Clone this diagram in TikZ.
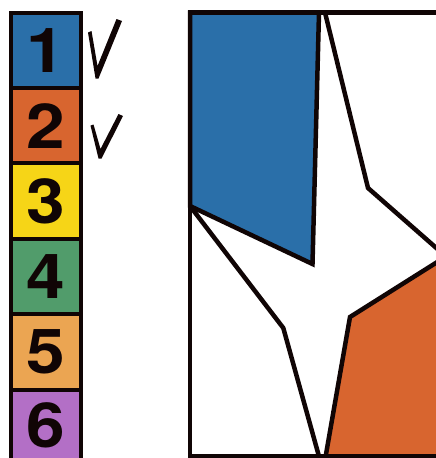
\documentclass[tikz,border=0pt]{standalone}
\usepackage{fontspec}
\newfontfamily\digfont{TeX Gyre Heros}
\definecolor{cblue}{HTML}{2A6FA9}
\definecolor{corange}{HTML}{D8652F}
\definecolor{cyellow}{HTML}{F6D517}
\definecolor{cgreen}{HTML}{519C6B}
\definecolor{clorange}{HTML}{EBA552}
\definecolor{cpurple}{HTML}{B36FC6}
\definecolor{ink}{HTML}{100505}
\tikzset{
  sq/.style={draw=ink, line width=4pt, rectangle, minimum width=70.8pt, minimum height=75.4pt, inner sep=0pt, outer sep=0pt},
  digit/.style={inner sep=0pt, font=\digfont\bfseries\fontsize{62}{62}\selectfont, text=ink},
  checkmark/.style={fill=ink, draw=none},
  region/.style={draw=ink, line width=4.5pt, line join=miter},
}
\newcommand{\widedigit}[1]{\scalebox{1.12}[1]{#1}}
\begin{document}
\begin{tikzpicture}[x=1pt,y=-1pt]
\useasboundingbox (0,0) rectangle (436,458);
\clip (0,0) rectangle (436,458);
% legend squares
\node[sq, fill=cblue]    (s1) at (45.9,50.2)  {};
\node[sq, fill=corange]  (s2) at (45.9,125.6) {};
\node[sq, fill=cyellow]  (s3) at (45.9,201.0) {};
\node[sq, fill=cgreen]   (s4) at (45.9,276.4) {};
\node[sq, fill=clorange] (s5) at (45.9,351.8) {};
\node[sq, fill=cpurple]  (s6) at (45.9,427.2) {};
\node[digit] (d1) at (45.9,50.2)  {\widedigit{1}};
\node[digit] (d2) at (45.9,125.6) {\widedigit{2}};
\node[digit] (d3) at (45.9,201.0) {\widedigit{3}};
\node[digit] (d4) at (45.9,276.4) {\widedigit{4}};
\node[digit] (d5) at (45.9,351.8) {\widedigit{5}};
\node[digit] (d6) at (45.9,425.5) {\widedigit{6}};
% check marks
\fill[checkmark] (88,32.5) -- (91.5,31) -- (97.5,66) -- (116.5,19) -- (122,21) -- (98.5,78.5) -- (95.5,78.5) -- cycle;
\fill[checkmark] (90.5,125.5) -- (93.5,124.5) -- (100.5,149) -- (118.5,114) -- (123,116) -- (101.5,158.5) -- (98.5,158.5) -- cycle;
% map
\draw[region, fill=cblue] (190,12.5) -- (319,12.5) -- (312.5,264) -- (190,206) -- cycle;
\draw[region, fill=corange] (325,460) -- (350,317) -- (450,254) -- (450,460) -- cycle;
\draw[region] (325,12.5) -- (368,188) -- (450,260);
\draw[region] (190,206) -- (283.3,328) -- (320,460);
\draw[region] (450,12.5) -- (190,12.5) -- (190,456.5) -- (450,456.5);
\end{tikzpicture}
\end{document}
